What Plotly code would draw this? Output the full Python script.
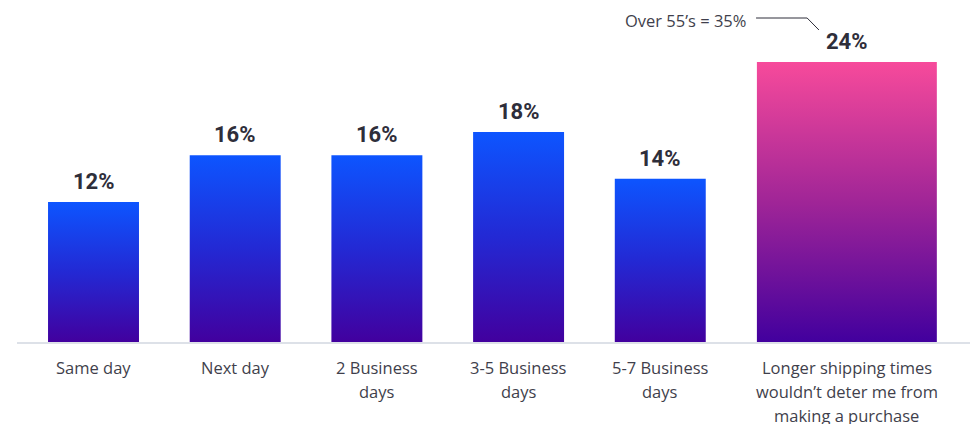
import plotly.graph_objects as go

# Survey data: share of respondents by expected delivery window
categories = [
    "Same day",
    "Next day",
    "2 Business\ndays",
    "3-5 Business\ndays",
    "5-7 Business\ndays",
    "Longer shipping times\nwouldn\u2019t deter me from\nmaking a purchase",
]
values = [12, 16, 16, 18, 14, 24]
value_labels = ["12%", "16%", "16%", "18%", "14%", "24%"]
callout_text = "Over 55\u2019s = 35%"

# Layout: slot positions along the x axis and bar widths (axis units)
positions = [0, 1, 2, 3, 4, 5.317]
widths = [0.642, 0.642, 0.642, 0.642, 0.642, 1.27]

BLUE_SCALE = [[0, "#42009E"], [0.5, "#2329D4"], [1, "#0D55FF"]]
PINK_SCALE = [[0, "#42009E"], [0.5, "#A02597"], [1, "#F74A9B"]]

TEXT_DARK = "#2E2E3A"
TEXT_MID = "#3F3F4C"
FONT = "Open Sans"
BOLD_FONT = "Roboto"

fig = go.Figure()

for i, (x, v, w) in enumerate(zip(positions, values, widths)):
    x0, x1 = x - w / 2, x + w / 2
    scale = PINK_SCALE if i == len(values) - 1 else BLUE_SCALE
    fig.add_trace(
        go.Scatter(
            x=[x0, x1, x1, x0, x0],
            y=[0, 0, v, v, 0],
            mode="lines",
            line=dict(width=0),
            fill="toself",
            fillgradient=dict(type="vertical", colorscale=scale),
            hoverinfo="skip",
            showlegend=False,
        )
    )
    # value label above each bar
    fig.add_annotation(
        x=x, y=v, xref="x", yref="y",
        text=f"<b>{value_labels[i]}</b>",
        showarrow=False, yanchor="bottom", yshift=6,
        font=dict(family=BOLD_FONT, size=22, color=TEXT_DARK),
    )
    # category label lines under the baseline
    for j, line in enumerate(categories[i].split("\n")):
        fig.add_annotation(
            x=x, y=0, xref="x", yref="y",
            text=line, showarrow=False,
            yanchor="middle", yshift=-25 - 24 * j,
            font=dict(family=FONT, size=16.5, color=TEXT_MID),
        )

# callout for the last bar
fig.add_annotation(
    x=0, y=1, xref="paper", yref="paper",
    text=callout_text, showarrow=False,
    xanchor="right", yanchor="middle",
    xshift=748 - 17, yshift=-10,
    font=dict(family=FONT, size=16.5, color=TEXT_MID),
)
fig.add_shape(
    type="path", xref="paper", yref="paper",
    path="M 0.7755 0.9759 L 0.8291 0.9759 L 0.8415 0.9398",
    line=dict(color="#2E2E3A", width=1),
)

fig.update_layout(
    width=971, height=424,
    margin=dict(l=17, r=1, t=10, b=82),
    paper_bgcolor="white", plot_bgcolor="white",
    xaxis=dict(
        range=[-0.540, 6.186], showgrid=False, zeroline=False,
        showticklabels=False, showline=True, linecolor="#DDE1E8",
        linewidth=2, fixedrange=True,
    ),
    yaxis=dict(
        range=[0, 28.45], showgrid=False, zeroline=False,
        showticklabels=False, showline=False, fixedrange=True,
    ),
    showlegend=False,
)

fig.write_html("out.html")
